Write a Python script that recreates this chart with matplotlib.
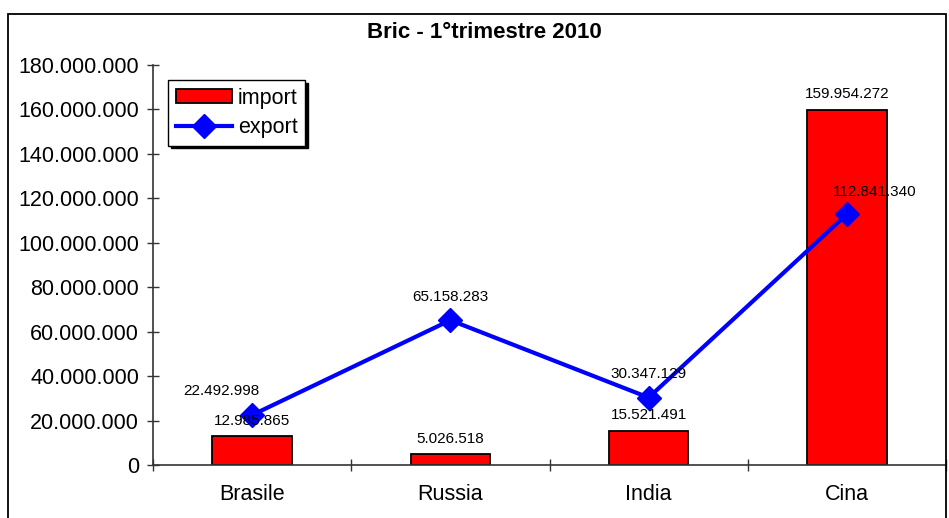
import numpy as np
import matplotlib.pyplot as plt
from matplotlib.patches import Rectangle
from matplotlib.ticker import FuncFormatter, FixedLocator

plt.rcParams['font.family'] = ['Liberation Sans', 'DejaVu Sans']

# Data
paesi = ["Brasile", "Russia", "India", "Cina"]
import_vals = [12985865, 5026518, 15521491, 159954272]
export_vals = [22492998, 65158283, 30347129, 112841340]

# label offsets (points) for export values, as placed in the original
export_offsets = [(-22, 17), (0, 17), (0, 17), (20, 16)]


def dotted(v, pos=None):
    return f"{int(v):,}".replace(",", ".")


W, H = 949, 518
fig = plt.figure(figsize=(W / 100, H / 100), dpi=100)

# outer chart border
fig.patches.append(Rectangle((8 / W, -0.1), (946 - 8) / W, 1.1 - 14 / H,
                             transform=fig.transFigure, fill=False,
                             edgecolor="black", linewidth=1.3))

ax = fig.add_axes([153 / W, (H - 465) / H, (946 - 153) / W, 400 / H])

x = np.arange(len(paesi))
bars = ax.bar(x, import_vals, width=0.4, color="#ff0000",
              edgecolor="black", linewidth=1.3, label="import", zorder=2)
line, = ax.plot(x, export_vals, color="#0000ff", linewidth=3, marker="D",
                markersize=12, label="export", zorder=3)

for xi, v in zip(x, import_vals):
    ax.annotate(dotted(v), (xi, v), xytext=(0, 11), textcoords="offset points",
                ha="center", va="center", fontsize=11, zorder=4)
for xi, v, off in zip(x, export_vals, export_offsets):
    ax.annotate(dotted(v), (xi, v), xytext=off, textcoords="offset points",
                ha="center", va="center", fontsize=11, zorder=4)

ax.set_xlim(-0.5, 3.5)
ax.set_ylim(0, 180000000)
ax.set_yticks(np.arange(0, 180000001, 20000000))
ax.yaxis.set_major_formatter(FuncFormatter(dotted))
ax.set_xticks(x)
ax.set_xticklabels(paesi)
ax.xaxis.set_minor_locator(FixedLocator([-0.5, 0.5, 1.5, 2.5, 3.5]))

ax.tick_params(axis="y", direction="inout", length=8, width=1, labelsize=15.5,
               pad=6, colors="#333333", labelcolor="black")
ax.tick_params(axis="x", which="major", length=0, labelsize=15.5, pad=14)
ax.tick_params(axis="x", which="minor", direction="inout", length=8, width=1,
               colors="#333333")

for s in ["top", "right"]:
    ax.spines[s].set_visible(False)
for s in ["left", "bottom"]:
    ax.spines[s].set_color("#333333")
    ax.spines[s].set_linewidth(1.2)

fig.text(484 / W, 1 - 33 / H, "Bric - 1°trimestre 2010", ha="center",
         va="center", fontsize=16, fontweight="bold")

leg = ax.legend([bars, line], ["import", "export"], loc="upper left",
                bbox_to_anchor=(168 / W, 1 - 80 / H),
                bbox_transform=fig.transFigure, fontsize=15.5, frameon=True,
                fancybox=False, shadow={"color": "black", "alpha": 1},
                edgecolor="black", borderpad=0.35, handlelength=2.6,
                handleheight=0.6, handletextpad=0.3, labelspacing=0.4,
                borderaxespad=0)
leg.get_frame().set_linewidth(1)

plt.savefig("out.png", dpi=100)
